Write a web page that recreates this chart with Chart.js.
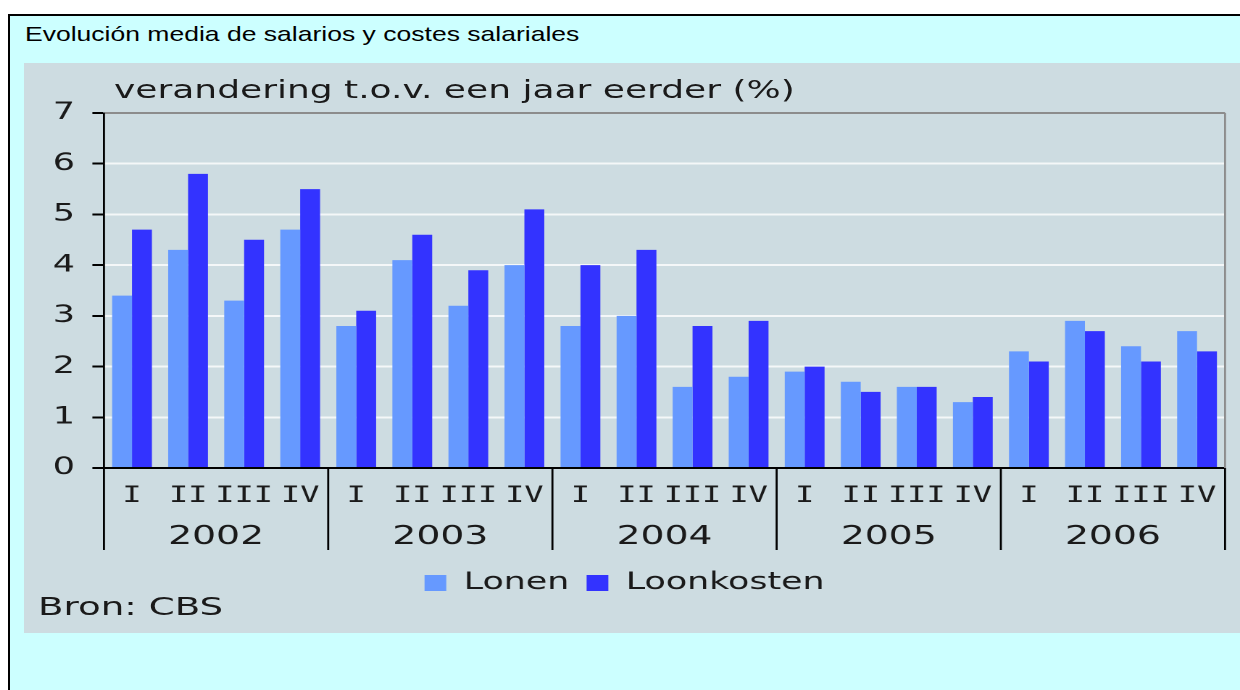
<!DOCTYPE html>
<html>
<head>
<meta charset="utf-8">
<script src="https://cdn.jsdelivr.net/npm/chart.js@4.4.1/dist/chart.umd.min.js"></script>
<style>
html,body{margin:0;padding:0;background:#fff;width:1240px;height:690px;overflow:hidden;}
#frame{position:absolute;left:8px;top:14px;width:1300px;height:700px;background:#CCFFFF;border-left:2px solid #000;border-top:2px solid #000;}
#title{position:absolute;left:25px;top:23px;font:21px/21px "Liberation Sans",Arial,sans-serif;color:#000;transform:scaleX(1.263);transform-origin:0 0;white-space:nowrap;}
#c{position:absolute;left:24px;top:63px;background:#CDDCE1;}
#unit{position:absolute;left:114px;top:78px;font:24px/24px "DejaVu Sans",sans-serif;color:#1a1a1a;transform:scaleX(1.5);transform-origin:0 0;white-space:nowrap;}
#src{position:absolute;left:38px;top:595px;font:24px/24px "DejaVu Sans",sans-serif;color:#1a1a1a;transform:scaleX(1.55);transform-origin:0 0;white-space:nowrap;}
</style>
</head>
<body>
<div id="frame"></div>
<div id="title">Evolución media de salarios y costes salariales</div>
<canvas id="c" width="839" height="570" style="width:1216px;height:570px;"></canvas>
<div id="unit">verandering t.o.v. een jaar eerder (%)</div>
<div id="src">Bron: CBS</div>
<script>
const quarters = ['I', 'II', 'III', 'IV'];
const years = ['2002', '2003', '2004', '2005', '2006'];
const seriesNames = ['Lonen', 'Loonkosten'];
const lonen = [3.4, 4.3, 3.3, 4.7, 2.8, 4.1, 3.2, 4.0, 2.8, 3.0, 1.6, 1.8, 1.9, 1.7, 1.6, 1.3, 2.3, 2.9, 2.4, 2.7];
const loonkosten = [4.7, 5.8, 4.5, 5.5, 3.1, 4.6, 3.9, 5.1, 4.0, 4.3, 2.8, 2.9, 2.0, 1.5, 1.6, 1.4, 2.1, 2.7, 2.1, 2.3];
const yMin = 0, yMax = 7, yStep = 1;

const quarterLabels = years.flatMap(() => quarters);

const decor = {
  id: 'decor',
  afterDraw(chart) {
    const {ctx, chartArea: a, scales: {x}} = chart;
    ctx.save();
    ctx.strokeStyle = '#8c8c8c';
    ctx.lineWidth = 1.4;
    ctx.beginPath();
    ctx.moveTo(a.right, a.top);
    ctx.lineTo(a.right, a.bottom);
    ctx.stroke();
    ctx.strokeStyle = '#000';
    ctx.lineWidth = 1.4;
    for (let k = 0; k <= years.length; k++) {
      const px = x.getPixelForValue(k * quarters.length - 0.5);
      ctx.beginPath();
      ctx.moveTo(px, a.bottom);
      ctx.lineTo(px, a.bottom + 82);
      ctx.stroke();
    }
    ctx.restore();
  }
};

const canvas = document.getElementById('c');
canvas.style.width = '1216px';
canvas.style.height = '570px';

new Chart(canvas, {
  type: 'bar',
  data: {
    labels: quarterLabels,
    datasets: [
      {label: seriesNames[0], data: lonen, backgroundColor: '#6699FF', borderWidth: 0, categoryPercentage: 0.71, barPercentage: 1.0},
      {label: seriesNames[1], data: loonkosten, backgroundColor: '#3333FF', borderWidth: 0, categoryPercentage: 0.71, barPercentage: 1.0}
    ]
  },
  options: {
    responsive: false,
    maintainAspectRatio: false,
    animation: false,
    devicePixelRatio: 2,
    layout: {padding: {top: 50, right: 10.3, bottom: 28, left: 0}},
    plugins: {
      legend: {
        position: 'bottom',
        labels: {font: {family: 'DejaVu Sans', size: 24}, color: '#1a1a1a', boxWidth: 15, boxHeight: 16, padding: 12}
      },
      tooltip: {enabled: false},
      title: {display: false}
    },
    scales: {
      x: {
        type: 'category',
        position: 'bottom',
        grid: {display: false, drawTicks: false},
        border: {display: true, color: '#000', width: 2},
        ticks: {font: {family: 'DejaVu Sans Mono', size: 22}, color: '#1a1a1a', padding: 15, autoSkip: false, maxRotation: 0},
        afterFit: s => { s.height = 40; }
      },
      x2: {
        type: 'category',
        labels: years,
        position: 'bottom',
        offset: true,
        grid: {display: false, drawTicks: false},
        border: {display: false},
        ticks: {font: {family: 'DejaVu Sans', size: 26}, color: '#1a1a1a', padding: 13.5, autoSkip: false, maxRotation: 0},
        afterFit: s => { s.height = 51; }
      },
      y: {
        min: yMin,
        max: yMax,
        ticks: {stepSize: yStep, font: {family: 'DejaVu Sans', size: 24}, color: '#1a1a1a', padding: 12},
        grid: {
          color: c => (c.tick && c.tick.value === yMax) ? '#8c8c8c' : (c.tick && c.tick.value === yMin ? '#000' : '#F4F7F8'),
          lineWidth: 2,
          tickLength: 8,
          tickColor: '#000',
          tickWidth: 2
        },
        border: {color: '#000', width: 1.4},
        afterFit: s => { s.width = 55.2; }
      }
    }
  },
  plugins: [decor]
});
</script>
</body>
</html>
